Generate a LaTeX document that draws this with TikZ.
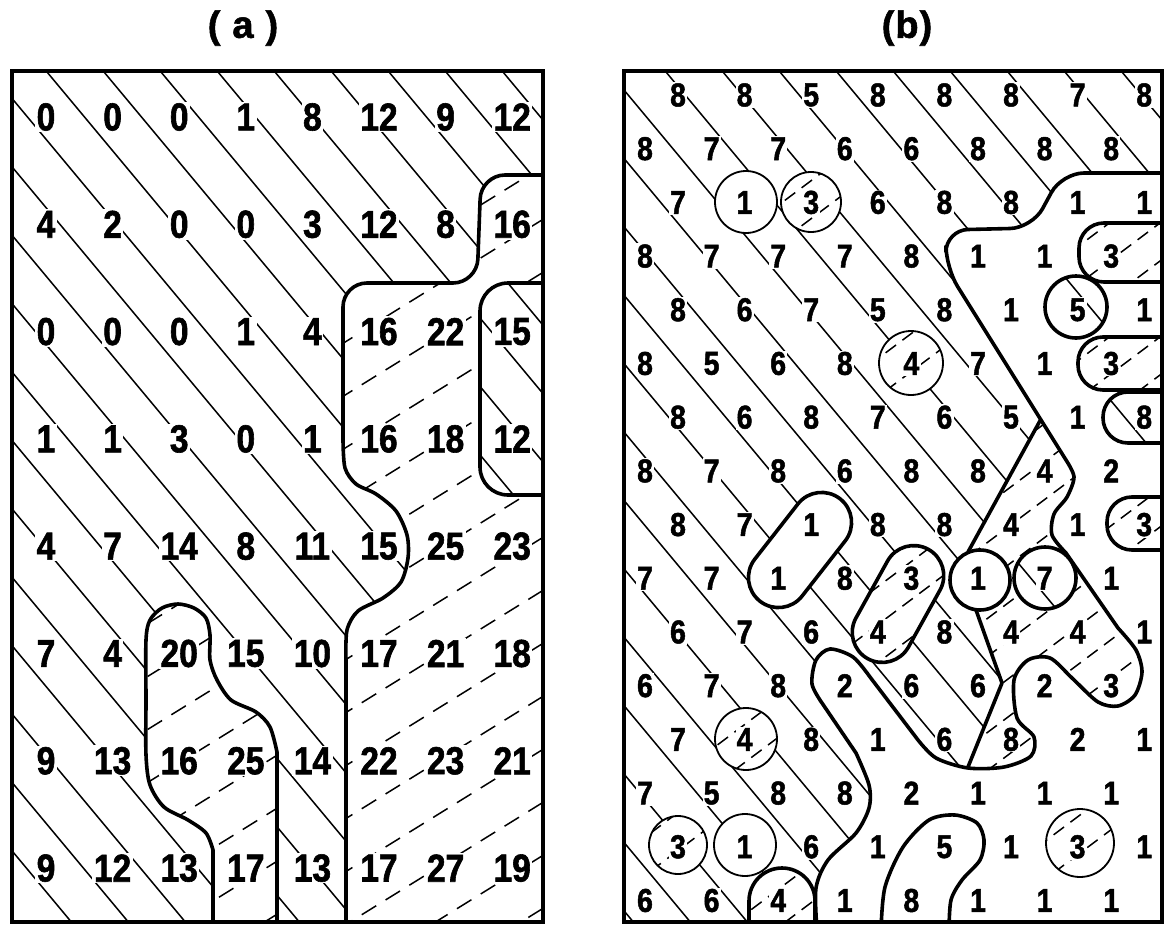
\documentclass[tikz,border=0pt]{standalone}
\usepackage{fontspec}
\newfontfamily\numfont[FakeStretch=0.86, FakeBold=1.5]{Liberation Sans}
\newfontfamily\capfont[FakeBold=1.5]{Liberation Sans}

% hatch families
\newcommand\linesA{\foreach \k in {-14,...,10} \draw[hatch] ({57*\k-13},0) -- ++(800,960);}
\newcommand\dashesA{\foreach \j in {-15,...,9} \draw[dashA] (100,{53*\j+812}) -- (600,{53*\j+502});}
\newcommand\linesB{\foreach \k in {-14,...,10} \draw[hatch] ({57*\k+606},0) -- ++(800,960);}
\newcommand\dashesB{\foreach \j in {-6,...,30} \draw[dashB] (600,{38*\j+225}) -- (1200,{38*\j-225});}

% region edges
\newcommand\edgeA{(560,175) [rounded corners=24pt] -- (481,175) -- (477,283) -- (343,283) -- (343,440) [sharp corners] -- plot[smooth] coordinates {(343,440) (345,468) (356,484) (376,494) (396,511) (407,535) (408,558) (401,582) (383,598) (358,611) (347,630) (346,660)} -- (346,930)}
\newcommand\lobeA{(213,930) -- (213,850) -- plot[smooth] coordinates {(213,850) (206,833) (188,820) (164,807) (150,785) (146,755) (146,700) (146,640) (150,620) (162,608) (178,604) (194,608) (206,618) (210,635) (210,660) (217,680) (231,700) (256,712) (270,727) (277,752)} -- (277,930)}
\newcommand\edgeB{(1200,173) [rounded corners=22pt] -- (1062,173) -- (1032,228) -- (946,230) -- (946,268) [sharp corners] -- (1066,460) -- plot[smooth] coordinates {(1066,460) (1074,477) (1067,497) (1054,514) (1052,535) (1066,553)} -- (1118,628) -- plot[smooth] coordinates {(1118,628) (1136,650) (1142,672) (1135,695) (1118,706) (1098,702) (1072,678) (1050,658) (1028,660) (1014,680) (1017,718) (1034,737) (1031,756) (1004,767) (968,768) (936,758) (918,740)} -- (870,677) -- plot[smooth] coordinates {(870,677) (853,657) (830,649) (816,660) (812,684) (822,703)} -- (856,753) -- plot[smooth] coordinates {(856,753) (869,785) (869,808) (856,833) (828,860) (816,888) (817,930)}}

\tikzset{
  hatch/.style={line width=1.5pt},
  dashA/.style={line width=1.5pt, dash pattern=on 17pt off 11pt},
  dashB/.style={line width=1.5pt, dash pattern=on 13pt off 8pt},
  bound/.style={line width=3.6pt, line join=round},
  ring/.style={line width=1.8pt},
  frame/.style={line width=4pt},
  numA/.style={font=\numfont\bfseries\fontsize{39}{39}\selectfont, fill=white, inner sep=1.5pt},
  numB/.style={font=\numfont\bfseries\fontsize{33}{33}\selectfont, fill=white, inner sep=1.2pt},
  title/.style={font=\capfont\bfseries\fontsize{38}{38}\selectfont},
}

\begin{document}
\begin{tikzpicture}[x=1pt, y=-1pt]
\fill[white] (0,0) rectangle (1173,926);
\useasboundingbox (0,0) rectangle (1173,926);

\node[title] (ta) at (243,28) {(\hspace{12pt}a\hspace{12pt})};
\node[title] (tb) at (907,28) {(\hspace{1pt}b\hspace{1pt})};

% ---- panel (a)
\begin{scope}
  \clip (12,71) rectangle (543,922);
  \linesA
  \begin{scope}
    \clip \edgeA -- (600,930) -- cycle;
    \fill[white] (0,0) rectangle (600,930);
    \dashesA
  \end{scope}
  \begin{scope}
    \clip[rounded corners=28pt] (600,283) -- (480,283) -- (480,495) -- (600,495) -- cycle;
    \fill[white] (0,0) rectangle (600,930);
    \linesA
  \end{scope}
  \begin{scope}
    \clip \lobeA -- cycle;
    \fill[white] (0,0) rectangle (600,930);
    \dashesA
  \end{scope}
  \foreach \vals [count=\r] in {{0,0,0,1,8,12,9,12},{4,2,0,0,3,12,8,16},{0,0,0,1,4,16,22,15},{1,1,3,0,1,16,18,12},{4,7,14,8,11,15,25,23},{7,4,20,15,10,17,21,18},{9,13,16,25,14,22,23,21},{9,12,13,17,13,17,27,19}}
    \foreach \v [count=\c] in \vals
      \node[numA] (a-\r-\c) at ({46+66.6*(\c-1)},{117+107.3*(\r-1)}) {\v};
  \draw[bound] \edgeA;
  \draw[bound, rounded corners=28pt] (600,283) -- (480,283) -- (480,495) -- (600,495);
  \draw[bound] \lobeA;
\end{scope}
\draw[frame] (12,71) rectangle (543,922);

% ---- panel (b)
\begin{scope}
  \clip (624,71) rectangle (1162,922);
  \linesB
  \begin{scope}
    \clip (1041,419) -- (968,552) -- (980,580) -- (976,610) -- (1002,683) -- (968,767) -- (1200,767) -- (1200,419) -- cycle;
    \fill[white] (600,0) rectangle (1200,930);
    \dashesB
  \end{scope}
  \fill[white] \edgeB -- (1200,930) -- cycle;
  % plain spots
  \fill[white] (746,202) circle[radius=31] (745,845) circle[radius=31] (980,580) circle[radius=30];
  \fill[white, rotate around={52:(800,550)}, rounded corners=30pt] (735,520) rectangle (865,580);
  % dashed spots
  \begin{scope}
    \clip (811,202) circle[radius=30] (911,363) circle[radius=32] (746,739) circle[radius=31] (678,845) circle[radius=29] (1080,843) circle[radius=34];
    \fill[white] (600,0) rectangle (1200,930);
    \dashesB
  \end{scope}
  \begin{scope}
    \clip[rotate around={61:(898,604)}, rounded corners=30pt] (835.5,574) rectangle (960.5,634);
    \fill[white] (600,0) rectangle (1200,930);
    \dashesB
  \end{scope}
  \begin{scope}
    \clip[rounded corners=25pt] (1230,223) -- (1079,223) -- (1079,282) -- (1230,282) -- cycle (1230,337) -- (1078,337) -- (1078,390) -- (1230,390) -- cycle (1230,497) -- (1107,497) -- (1107,550) -- (1230,550) -- cycle;
    \fill[white] (600,0) rectangle (1200,930);
    \dashesB
  \end{scope}
  \begin{scope}
    \clip[rounded corners=33pt] (749,1000) -- (749,868) -- (815,868) -- (815,1000) -- cycle;
    \fill[white] (600,0) rectangle (1200,930);
    \dashesB
  \end{scope}
  % solid spots
  \begin{scope}
    \clip (1045,578) circle[radius=31] (1076,307) circle[radius=31];
    \fill[white] (600,0) rectangle (1200,930);
    \linesB
  \end{scope}
  \begin{scope}
    \clip[rounded corners=25pt] (1230,392) -- (1103,392) -- (1103,443) -- (1230,443) -- cycle;
    \fill[white] (600,0) rectangle (1200,930);
    \linesB
  \end{scope}
  \foreach \vals [count=\r] in {{8,8,5,8,8,8,7,8},{8,7,7,6,6,8,8,8},{7,1,3,6,8,8,1,1},{8,7,7,7,8,1,1,3},{8,6,7,5,8,1,5,1},{8,5,6,8,4,7,1,3},{8,6,8,7,6,5,1,8},{8,7,8,6,8,8,4,2},{8,7,1,8,8,4,1,3},{7,7,1,8,3,1,7,1},{6,7,6,4,8,4,4,1},{6,7,8,2,6,6,2,3},{7,4,8,1,6,8,2,1},{7,5,8,8,2,1,1,1},{3,1,6,1,5,1,3,1},{6,6,4,1,8,1,1,1}}
    \foreach \v [count=\c] in \vals
      \node[numB] (b-\r-\c) at ({645+33*mod(\r,2)+66.6*(\c-1)},{95+53.7*(\r-1)}) {\v};
  \draw[bound] \edgeB;
  \draw[bound] (1041,419) -- (968,552);
  \draw[bound] (976,610) -- (1002,683) -- (968,767);
  \draw[bound] (980,580) circle[radius=30] (1045,578) circle[radius=31] (1076,307) circle[radius=31];
  \draw[ring] (746,202) circle[radius=31] (811,202) circle[radius=30] (911,363) circle[radius=32] (746,739) circle[radius=31] (678,845) circle[radius=29] (745,845) circle[radius=31] (1080,843) circle[radius=34];
  \draw[bound, rotate around={52:(800,550)}, rounded corners=30pt] (735,520) rectangle (865,580);
  \draw[bound, rotate around={61:(898,604)}, rounded corners=30pt] (835.5,574) rectangle (960.5,634);
  \draw[bound, rounded corners=25pt] (1230,223) -- (1079,223) -- (1079,282) -- (1230,282) (1230,337) -- (1078,337) -- (1078,390) -- (1230,390) (1230,392) -- (1103,392) -- (1103,443) -- (1230,443) (1230,497) -- (1107,497) -- (1107,550) -- (1230,550);
  \draw[bound, rounded corners=33pt] (749,1000) -- (749,868) -- (815,868) -- (815,1000);
  \draw[bound] plot[smooth] coordinates {(881,930) (885,887) (903,847) (929,820) (955,815) (977,823) (984,840) (980,860) (962,880) (951,900) (949,930)};
\end{scope}
\draw[frame] (624,71) rectangle (1162,922);
\end{tikzpicture}
\end{document}
